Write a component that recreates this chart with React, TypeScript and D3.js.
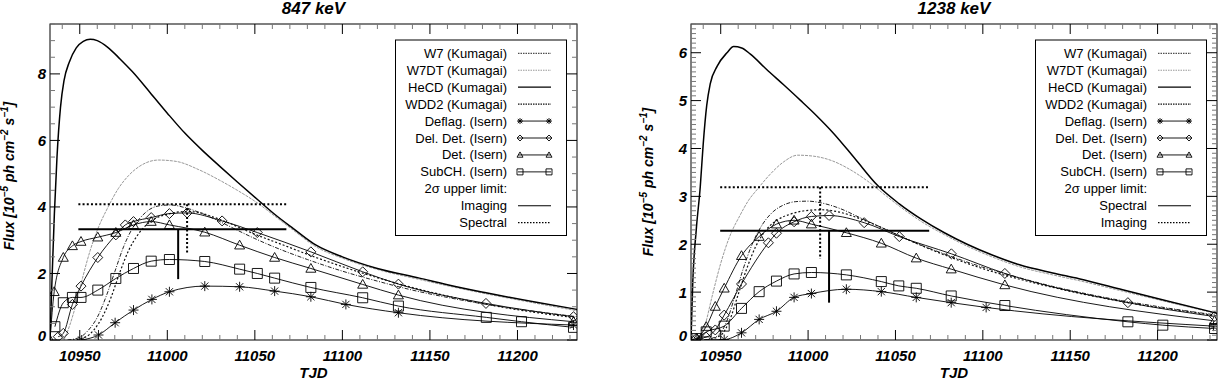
import React from 'react';
import * as d3 from 'd3';

type Pt = [number, number];

// Shared time axis (TJD) for both energy panels.
const tjdDomain: Pt = [10933, 11234];
const tjdMajorTicks = [10950, 11000, 11050, 11100, 11150, 11200];
const tjdTickLabels = ['10950', '11000', '11050', '11100', '11150', '11200'];

// ---- 847 keV ----
const heCD847: Pt[] = [
  [10933, 0], [10934, 1.6], [10935.5, 3.8], [10937, 5.5], [10939, 7.0], [10941, 7.8], [10944, 8.35],
  [10948, 8.78], [10952, 8.98], [10956, 9.04], [10960, 9.0], [10966, 8.8], [10973, 8.45], [10980, 8.07],
  [10990, 7.45], [11000, 6.82], [11010, 6.22], [11020, 5.7], [11030, 5.22], [11040, 4.75], [11052, 4.2],
  [11062, 3.75], [11072, 3.35], [11085, 2.85], [11100, 2.5], [11120, 2.15], [11144, 1.86], [11160, 1.66],
  [11182, 1.42], [11210, 1.14], [11234, 0.92],
];
const w7dt847: Pt[] = [
  [10941, 0], [10944, 0.4], [10948, 1.1], [10952, 1.95], [10956, 2.7], [10960, 3.3], [10966, 3.98],
  [10972, 4.55], [10978, 4.95], [10985, 5.25], [10995, 5.41], [11005, 5.37], [11018, 5.12], [11030, 4.8],
  [11040, 4.5], [11052, 4.1], [11062, 3.7], [11072, 3.3], [11085, 2.8], [11100, 2.46], [11120, 2.12],
  [11144, 1.82], [11160, 1.63], [11182, 1.39], [11210, 1.11], [11234, 0.88],
];
const w7847: Pt[] = [
  [10943, 0], [10950, 0.08], [10955, 0.3], [10960, 0.68], [10965, 1.3], [10970, 2.05], [10975, 2.8],
  [10980, 3.35], [10985, 3.7], [10990, 3.93], [10996, 4.04], [11002, 4.06], [11010, 3.98], [11020, 3.8],
  [11030, 3.56], [11040, 3.3], [11050, 3.05], [11060, 2.82], [11080, 2.42], [11100, 2.07], [11120, 1.77],
  [11140, 1.5], [11160, 1.28], [11180, 1.09], [11200, 0.93], [11220, 0.79], [11234, 0.7],
];
const wdd2847: Pt[] = [
  [10946, 0], [10953, 0.08], [10958, 0.3], [10963, 0.7], [10968, 1.3], [10973, 2.05], [10978, 2.7],
  [10983, 3.15], [10990, 3.55], [11000, 3.78], [11010, 3.86], [11016, 3.85], [11025, 3.72], [11035, 3.52],
  [11050, 3.18], [11065, 2.88], [11085, 2.48], [11105, 2.12], [11130, 1.72], [11160, 1.32], [11190, 1.0],
  [11234, 0.66],
];
const deflag847: Pt[] = [
  [10951.1, 0], [10960.7, 0.15], [10970.2, 0.52], [10980.7, 0.9], [10991.2, 1.22], [11001.2, 1.45],
  [11021.4, 1.62], [11041.3, 1.6], [11061.3, 1.47], [11082, 1.3], [11102, 1.07], [11132, 0.82], [11232, 0.45],
];
const delDet847: Pt[] = [
  [10937.7, 0.1], [10940.6, 0.2], [10945.8, 1.07], [10950.7, 1.62], [10960.3, 2.48], [10970.6, 3.16],
  [10976, 3.46], [10980.7, 3.56], [10990.8, 3.68], [11001.2, 3.8], [11011.3, 3.82], [11031.3, 3.58],
  [11051.4, 3.23], [11082, 2.65], [11111.6, 2.05], [11132, 1.68], [11182, 1.1], [11232, 0.7],
];
const det847: Pt[] = [
  [10933, 0], [10935.4, 1.45], [10940.6, 2.48], [10945.8, 2.83], [10950.7, 2.96], [10960.3, 3.09],
  [10970.6, 3.23], [10980.7, 3.46], [10990.8, 3.56], [11001.2, 3.46], [11021.4, 3.24], [11041.3, 2.85],
  [11061.3, 2.48], [11082, 2.15], [11111.6, 1.67], [11132, 1.35], [11232, 0.55],
];
const subCh847: Pt[] = [
  [10935.8, 0.4], [10940.6, 1.12], [10945.8, 1.28], [10950.7, 1.28], [10960.3, 1.5], [10970.6, 1.85],
  [10980.7, 2.15], [10990.8, 2.37], [11001.2, 2.42], [11021.4, 2.36], [11041.3, 2.13], [11051.4, 2.0],
  [11061.3, 1.86], [11082, 1.58], [11111.6, 1.27], [11132, 1.02], [11182.2, 0.68], [11202.3, 0.55], [11232, 0.38],
];
// 2-sigma upper limits: [tStart, tEnd, flux, tMean, lowerEndOfBar]
const solidLimit847 = [10949.2, 11068, 3.33, 11006.2, 1.83];
const dottedLimit847 = [10949.2, 11068, 4.08, 11011.3, 2.58];

// ---- 1238 keV ----
const heCD1238: Pt[] = [
  [10933, 0], [10934, 1.2], [10936, 2.3], [10938.3, 3.2], [10940, 4.1], [10942, 4.9], [10944, 5.35],
  [10948, 5.72], [10953.6, 6.0], [10957.4, 6.13], [10962, 6.1], [10967, 5.97], [10976, 5.66], [10986, 5.33],
  [10995.5, 5.01], [11005, 4.68], [11014.5, 4.32], [11027, 3.78], [11040, 3.22], [11052, 2.85], [11065, 2.52],
  [11078, 2.24], [11091, 2.0], [11105, 1.78], [11121, 1.57], [11140, 1.4], [11155, 1.28], [11180, 1.05],
  [11205, 0.82], [11234, 0.56],
];
const w7dt1238: Pt[] = [
  [10938, 0], [10941, 0.3], [10945, 0.9], [10950, 1.6], [10955, 2.15], [10961, 2.6], [10966, 2.92],
  [10971, 3.15], [10978, 3.45], [10986, 3.72], [10994, 3.86], [11003, 3.84], [11014, 3.74], [11024, 3.56],
  [11034, 3.32], [11045, 3.0], [11055, 2.72], [11065, 2.47], [11078, 2.2], [11091, 1.96], [11105, 1.74],
  [11121, 1.53], [11140, 1.36], [11155, 1.24], [11180, 1.02], [11205, 0.8], [11234, 0.55],
];
const w71238: Pt[] = [
  [10940, 0], [10948, 0.08], [10953, 0.35], [10958, 0.9], [10963, 1.5], [10968, 2.0], [10974, 2.42],
  [10980, 2.68], [10986, 2.82], [10993, 2.89], [11000, 2.9], [11008, 2.86], [11018, 2.75], [11030, 2.55],
  [11045, 2.3], [11060, 2.05], [11080, 1.77], [11100, 1.52], [11120, 1.31], [11140, 1.12], [11160, 0.96],
  [11180, 0.82], [11200, 0.7], [11220, 0.59], [11234, 0.52],
];
const wdd21238: Pt[] = [
  [10942, 0], [10950, 0.1], [10955, 0.4], [10960, 0.95], [10965, 1.5], [10970, 1.95], [10976, 2.3],
  [10983, 2.52], [10990, 2.63], [10998, 2.7], [11008, 2.72], [11018, 2.67], [11030, 2.53], [11045, 2.3],
  [11060, 2.05], [11080, 1.75], [11100, 1.49], [11120, 1.28], [11140, 1.1], [11160, 0.94], [11180, 0.8],
  [11200, 0.68], [11220, 0.58], [11234, 0.5],
];
const deflag1238: Pt[] = [
  [10936.4, 0], [10952, 0.01], [10961.9, 0.15], [10972, 0.43], [10981.9, 0.6], [10992, 0.89], [11001.9, 0.97],
  [11021.9, 1.06], [11041.9, 1.01], [11061.9, 0.89], [11081.9, 0.78], [11101.9, 0.68], [11232, 0.29],
];
const delDet1238: Pt[] = [
  [10936, 0.03], [10941.7, 0.06], [10946.9, 0.21], [10952, 0.52], [10961.9, 1.17], [10977.3, 2.03],
  [10981.9, 2.23], [10992, 2.47], [11001.9, 2.58], [11012, 2.6], [11032.1, 2.45], [11052.2, 2.16],
  [11082, 1.8], [11112.6, 1.39], [11183, 0.78], [11232.6, 0.49],
];
const det1238: Pt[] = [
  [10936.4, 0.03], [10941.7, 0.28], [10946.9, 0.7], [10952, 1.08], [10961.9, 1.76], [10972, 2.16],
  [10981.9, 2.42], [10992, 2.5], [11001.9, 2.42], [11021.9, 2.24], [11041.9, 2.02], [11061.9, 1.71],
  [11081.9, 1.48], [11112.6, 1.15], [11232.6, 0.4],
];
const subCh1238: Pt[] = [
  [10936.4, 0.03], [10941.7, 0.17], [10952, 0.29], [10961.9, 0.66], [10972, 1.01], [10981.9, 1.23],
  [10992, 1.38], [11001.9, 1.41], [11021.9, 1.36], [11041.9, 1.22], [11051.9, 1.13], [11061.9, 1.08],
  [11081.9, 0.92], [11112.6, 0.72], [11183, 0.38], [11203, 0.31], [11232.6, 0.24],
];
const solidLimit1238 = [10949.7, 11069.3, 2.28, 11012, 0.78];
const dottedLimit1238 = [10949.7, 11069.3, 3.19, 11006.9, 1.69];

const legend847 = [
  'W7 (Kumagai)', 'W7DT (Kumagai)', 'HeCD (Kumagai)', 'WDD2 (Kumagai)', 'Deflag. (Isern)',
  'Del. Det. (Isern)', 'Det. (Isern)', 'SubCH. (Isern)', '2σ upper limit:', 'Imaging', 'Spectral',
];
const legend1238 = [
  'W7 (Kumagai)', 'W7DT (Kumagai)', 'HeCD (Kumagai)', 'WDD2 (Kumagai)', 'Deflag. (Isern)',
  'Del. Det. (Isern)', 'Det. (Isern)', 'SubCH. (Isern)', '2σ upper limit:', 'Spectral', 'Imaging',
];
const legendKeys = ['w7', 'w7dt', 'hecd', 'wdd2', 'deflag', 'deldet', 'det', 'subch', '', 'solid', 'dotted'];

const FONT = '"Liberation Sans", Arial, Helvetica, sans-serif';
const PLOT_TOP = 24;
const PLOT_BOTTOM = 340;

const lineStyles: Record<string, { stroke: string; width: number; dash?: string }> = {
  w7: { stroke: '#222', width: 1, dash: '4 1.5 1 1.5' },
  w7dt: { stroke: '#999', width: 1, dash: '3 1' },
  hecd: { stroke: '#000', width: 1.5 },
  wdd2: { stroke: '#111', width: 1.2, dash: '2 2' },
  isern: { stroke: '#000', width: 0.9 },
};

function markerPath(kind: string, cx: number, cy: number, s: number) {
  if (kind === 'deflag') {
    const d = s * 0.72;
    return `M${cx - s},${cy}H${cx + s}M${cx},${cy - s}V${cy + s}M${cx - d},${cy - d}L${cx + d},${cy + d}M${cx + d},${cy - d}L${cx - d},${cy + d}`;
  }
  if (kind === 'deldet') {
    return `M${cx},${cy - s}L${cx + s},${cy}L${cx},${cy + s}L${cx - s},${cy}Z`;
  }
  if (kind === 'det') {
    return `M${cx - s},${cy + s * 0.75}L${cx + s},${cy + s * 0.75}L${cx},${cy - s}Z`;
  }
  return `M${cx - s},${cy - s}H${cx + s}V${cy + s}H${cx - s}Z`;
}

type PanelProps = {
  id: string;
  title: string;
  left: number;
  right: number;
  yMax: number;
  yMajor: number[];
  yMinorStep: number;
  models: { key: string; data: Pt[] }[];
  isern: { key: string; data: Pt[] }[];
  solidLimit: number[];
  dottedLimit: number[];
  legend: string[];
  labelX: number;
  labelY: number;
};

function Panel(p: PanelProps) {
  const x = d3.scaleLinear().domain(tjdDomain).range([p.left, p.right]);
  const y = d3.scaleLinear().domain([0, p.yMax]).range([PLOT_BOTTOM, PLOT_TOP]);
  const line = d3
    .line<Pt>()
    .x((d) => x(d[0]))
    .y((d) => y(d[1]))
    .curve(d3.curveMonotoneX);

  const xMinor = d3.range(10940, tjdDomain[1], 10).filter((t) => t % 50 !== 0);
  const yMinor = d3
    .range(0, p.yMax + 1e-9, p.yMinorStep)
    .filter((v) => !p.yMajor.some((m) => Math.abs(m - v) < 1e-6));
  const cx = (p.left + p.right) / 2;

  const limitLines = (lim: number[], dotted: boolean) => (
    <g
      stroke="#000"
      strokeWidth={2}
      strokeDasharray={dotted ? '2 2.2' : undefined}
      fill="none"
    >
      <line x1={x(lim[0])} x2={x(lim[1])} y1={y(lim[2])} y2={y(lim[2])} />
      <line x1={x(lim[3])} x2={x(lim[3])} y1={y(lim[2])} y2={y(lim[4])} />
    </g>
  );

  // legend geometry, anchored to the panel's right edge
  const lgLeft = p.right - 181.5;
  const lgRight = p.right - 10.5;
  const lgTop = 40;
  const rowH = 16.94;
  const textX = p.right - 70;
  const s1 = p.right - 59;
  const s2 = p.right - 26;

  return (
    <g>
      <defs>
        <clipPath id={`clip-${p.id}`}>
          <rect x={p.left} y={PLOT_TOP} width={p.right - p.left} height={PLOT_BOTTOM - PLOT_TOP} />
        </clipPath>
      </defs>

      <text x={cx} y={14} textAnchor="middle" fontFamily={FONT} fontWeight="bold" fontStyle="italic" fontSize={17}>
        {p.title}
      </text>

      <g clipPath={`url(#clip-${p.id})`}>
        {p.models.map((m) => {
          const st = lineStyles[m.key];
          return (
            <path
              key={m.key}
              d={line(m.data) ?? ''}
              fill="none"
              stroke={st.stroke}
              strokeWidth={st.width}
              strokeDasharray={st.dash}
            />
          );
        })}
        {p.isern.map((m) => (
          <g key={m.key}>
            <path d={line(m.data) ?? ''} fill="none" stroke="#000" strokeWidth={0.9} />
            {m.data.map((d, i) => (
              <path
                key={i}
                d={markerPath(m.key, x(d[0]), y(d[1]), 5)}
                fill="none"
                stroke="#000"
                strokeWidth={0.9}
              />
            ))}
          </g>
        ))}
        {limitLines(p.solidLimit, false)}
        {limitLines(p.dottedLimit, true)}
      </g>

      {/* axes box with inward IDL-style ticks */}
      <rect
        x={p.left}
        y={PLOT_TOP}
        width={p.right - p.left}
        height={PLOT_BOTTOM - PLOT_TOP}
        fill="none"
        stroke="#000"
        strokeWidth={1}
      />
      <g stroke="#000" strokeWidth={1}>
        {tjdMajorTicks.map((t) => (
          <g key={t}>
            <line x1={x(t)} x2={x(t)} y1={PLOT_BOTTOM} y2={PLOT_BOTTOM - 10} />
            <line x1={x(t)} x2={x(t)} y1={PLOT_TOP} y2={PLOT_TOP + 10} />
          </g>
        ))}
        {p.yMajor.map((v) => (
          <g key={v}>
            <line x1={p.left} x2={p.left + 10} y1={y(v)} y2={y(v)} />
            <line x1={p.right} x2={p.right - 10} y1={y(v)} y2={y(v)} />
          </g>
        ))}
      </g>
      <g stroke="#777" strokeWidth={1}>
        {xMinor.map((t) => (
          <g key={t}>
            <line x1={x(t)} x2={x(t)} y1={PLOT_BOTTOM} y2={PLOT_BOTTOM - 5} />
            <line x1={x(t)} x2={x(t)} y1={PLOT_TOP} y2={PLOT_TOP + 5} />
          </g>
        ))}
        {yMinor.map((v) => (
          <g key={v}>
            <line x1={p.left} x2={p.left + 5} y1={y(v)} y2={y(v)} />
            <line x1={p.right} x2={p.right - 5} y1={y(v)} y2={y(v)} />
          </g>
        ))}
      </g>

      <g fontFamily={FONT} fontWeight="bold" fontStyle="italic" fontSize={15}>
        {tjdMajorTicks.map((t, i) => (
          <text key={t} x={x(t)} y={361} textAnchor="middle">
            {tjdTickLabels[i]}
          </text>
        ))}
        {p.yMajor.map((v) => (
          <text key={v} x={p.left - 4} y={Math.min(y(v) + 5.5, 341)} textAnchor="end">
            {String(v)}
          </text>
        ))}
        <text x={cx} y={378} textAnchor="middle">
          TJD
        </text>
        <text transform={`translate(${p.labelX},${p.labelY}) rotate(-90)`} textAnchor="middle" fontSize={14}>
          Flux [10
          <tspan dy={-6} fontSize={10}>
            −5
          </tspan>
          <tspan dy={6}> ph cm</tspan>
          <tspan dy={-6} fontSize={10}>
            −2
          </tspan>
          <tspan dy={6}> s</tspan>
          <tspan dy={-6} fontSize={10}>
            −1
          </tspan>
          <tspan dy={6}>]</tspan>
        </text>
      </g>

      {/* legend */}
      <rect
        x={lgLeft}
        y={lgTop}
        width={lgRight - lgLeft}
        height={195.5}
        fill="#fff"
        stroke="#000"
        strokeWidth={1}
      />
      <g fontFamily={FONT} fontSize={13}>
        {p.legend.map((label, i) => {
          const cy = lgTop + 13.3 + i * rowH;
          const key = legendKeys[i];
          let sample: React.ReactNode = null;
          if (key === 'solid' || key === 'dotted') {
            sample = (
              <line
                x1={s1}
                x2={s2}
                y1={cy}
                y2={cy}
                stroke="#000"
                strokeWidth={1.2}
                strokeDasharray={key === 'dotted' ? '1.5 1.5' : undefined}
              />
            );
          } else if (lineStyles[key]) {
            const st = lineStyles[key];
            sample = (
              <line
                x1={s1}
                x2={s2}
                y1={cy}
                y2={cy}
                stroke={st.stroke}
                strokeWidth={Math.min(st.width, 1.2)}
                strokeDasharray={key === 'hecd' ? undefined : '1.5 1'}
              />
            );
          } else if (key) {
            sample = (
              <g stroke="#000" strokeWidth={0.9} fill="none">
                <line x1={s1} x2={s2} y1={cy} y2={cy} />
                <path d={markerPath(key, s1 + 2, cy, 3)} />
                <path d={markerPath(key, s2 - 2, cy, 3)} />
              </g>
            );
          }
          return (
            <g key={i}>
              <text x={textX} y={cy + 4.5} textAnchor="end">
                {label}
              </text>
              {sample}
            </g>
          );
        })}
      </g>
    </g>
  );
}

export default function App() {
  return (
    <svg
      width={1219}
      height={380}
      viewBox="0 0 1219 380"
      style={{ position: 'absolute', left: 0, top: 0, background: '#fff' }}
    >
      <rect width={1219} height={380} fill="#fff" />
      <Panel
        id="p847"
        title="847 keV"
        left={50}
        right={577}
        yMax={9.5}
        yMajor={[0, 2, 4, 6, 8]}
        yMinorStep={0.5}
        models={[
          { key: 'w7dt', data: w7dt847 },
          { key: 'hecd', data: heCD847 },
          { key: 'w7', data: w7847 },
          { key: 'wdd2', data: wdd2847 },
        ]}
        isern={[
          { key: 'deflag', data: deflag847 },
          { key: 'deldet', data: delDet847 },
          { key: 'det', data: det847 },
          { key: 'subch', data: subCh847 },
        ]}
        solidLimit={solidLimit847}
        dottedLimit={dottedLimit847}
        legend={legend847}
        labelX={14}
        labelY={176}
      />
      <Panel
        id="p1238"
        title="1238 keV"
        left={691}
        right={1217}
        yMax={6.6}
        yMajor={[0, 1, 2, 3, 4, 5, 6]}
        yMinorStep={0.1}
        models={[
          { key: 'w7dt', data: w7dt1238 },
          { key: 'hecd', data: heCD1238 },
          { key: 'w7', data: w71238 },
          { key: 'wdd2', data: wdd21238 },
        ]}
        isern={[
          { key: 'deflag', data: deflag1238 },
          { key: 'deldet', data: delDet1238 },
          { key: 'det', data: det1238 },
          { key: 'subch', data: subCh1238 },
        ]}
        solidLimit={solidLimit1238}
        dottedLimit={dottedLimit1238}
        legend={legend1238}
        labelX={653}
        labelY={182}
      />
    </svg>
  );
}
